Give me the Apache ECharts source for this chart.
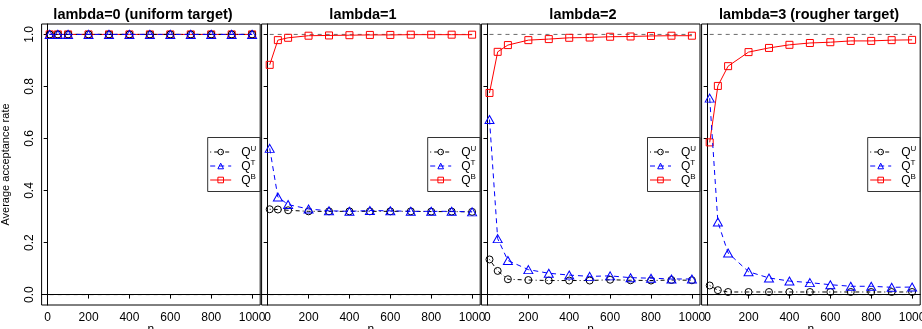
<!DOCTYPE html>
<html><head><meta charset="utf-8">
<script src="https://cdn.jsdelivr.net/npm/echarts@6/dist/echarts.min.js"></script>
<style>html,body{margin:0;padding:0;background:#fff}#c{width:922px;height:329px}</style>
</head><body><div id="c"></div>
<script>
// ---- data ----
const nValues = [10, 50, 100, 200, 300, 400, 500, 600, 700, 800, 900, 1000];
const xTicks = [0, 200, 400, 600, 800, 1000];
const yTicks = [0, 0.2, 0.4, 0.6, 0.8, 1.0];
const panelTitles = ['lambda=0 (uniform target)', 'lambda=1', 'lambda=2', 'lambda=3 (rougher target)'];
const legendNames = ['QU', 'QT', 'QB'];

const refUpper = [1, 1, 1, 1, 1, 1, 1, 1, 1, 1, 1, 1];
const refLower = [0, 0, 0, 0, 0, 0, 0, 0, 0, 0, 0, 0];

const uLambda0 = [1, 1, 1, 1, 1, 1, 1, 1, 1, 1, 1, 1];
const tLambda0 = [1, 1, 1, 1, 1, 1, 1, 1, 1, 1, 1, 1];
const bLambda0 = [1, 1, 1, 1, 1, 1, 1, 1, 1, 1, 1, 1];

const uLambda1 = [0.328, 0.327, 0.324, 0.320, 0.320, 0.320, 0.320, 0.320, 0.320, 0.319, 0.319, 0.318];
const tLambda1 = [0.562, 0.375, 0.346, 0.329, 0.322, 0.320, 0.323, 0.322, 0.320, 0.320, 0.320, 0.318];
const bLambda1 = [0.883, 0.978, 0.987, 0.995, 0.996, 0.997, 0.998, 0.998, 0.999, 0.999, 0.999, 0.999];

const uLambda2 = [0.135, 0.091, 0.059, 0.056, 0.054, 0.054, 0.054, 0.057, 0.055, 0.054, 0.056, 0.055];
const tLambda2 = [0.673, 0.215, 0.131, 0.096, 0.082, 0.075, 0.070, 0.072, 0.065, 0.063, 0.060, 0.060];
const bLambda2 = [0.775, 0.933, 0.959, 0.978, 0.982, 0.987, 0.988, 0.991, 0.992, 0.994, 0.995, 0.995];

const uLambda3 = [0.035, 0.017, 0.010, 0.010, 0.010, 0.010, 0.010, 0.010, 0.010, 0.010, 0.010, 0.010];
const tLambda3 = [0.755, 0.279, 0.160, 0.088, 0.064, 0.052, 0.046, 0.038, 0.032, 0.032, 0.028, 0.029];
const bLambda3 = [0.585, 0.802, 0.878, 0.932, 0.948, 0.960, 0.967, 0.970, 0.975, 0.975, 0.978, 0.979];

const panels = [
  { u: uLambda0, t: tLambda0, b: bLambda0 },
  { u: uLambda1, t: tLambda1, b: bLambda1 },
  { u: uLambda2, t: tLambda2, b: bLambda2 },
  { u: uLambda3, t: tLambda3, b: bLambda3 }
];

// ---- layout / style ----
const FONT = 'Liberation Sans, Arial, sans-serif';
const gridLefts = [41.6, 261.6, 481.4, 701.6];
const gridWidth = 218.6;
const gridTop = 24;
const gridHeight = 281;
const titleCenters = [143, 363, 583, 809];

const pair = (ys) => nValues.map((x, i) => [x, ys[i]]);

const grids = [], xAxes = [], yAxes = [], series = [], legends = [], graphics = [];

panels.forEach((p, i) => {
  grids.push({ left: gridLefts[i], top: gridTop, width: gridWidth, height: gridHeight,
    containLabel: false, outerBoundsMode: 'none',
    show: true, borderColor: '#000', borderWidth: 1, backgroundColor: 'transparent' });
  xAxes.push({
    type: 'value', gridIndex: i, min: -29.6, max: 1039.6,
    name: 'n', nameLocation: 'middle', nameGap: 19, nameMoveOverlap: false,
    nameTextStyle: { fontFamily: FONT, fontSize: 12, color: '#000' },
    axisLine: { show: true, lineStyle: { color: '#000', width: 1 } },
    axisTick: { show: true, customValues: xTicks, length: 4, lineStyle: { color: '#000' } },
    axisLabel: { show: true, customValues: xTicks, margin: 7, formatter: (v) => String(v),
      fontFamily: FONT, fontSize: 12, color: '#000' },
    splitLine: { show: false }
  });
  yAxes.push({
    type: 'value', gridIndex: i, min: -0.04, max: 1.04,
    name: i === 0 ? 'Average acceptance rate' : '',
    nameLocation: 'middle', nameGap: 30, nameRotate: 90, nameMoveOverlap: false,
    nameTextStyle: { fontFamily: FONT, fontSize: 11, color: '#000' },
    axisLine: { show: true, lineStyle: { color: '#000', width: 1 } },
    axisTick: { show: true, customValues: yTicks, length: 4, lineStyle: { color: '#000' } },
    axisLabel: { show: i === 0, customValues: yTicks, rotate: 90, margin: 6,
      formatter: (v) => v.toFixed(1), fontFamily: FONT, fontSize: 12, color: '#000' },
    splitLine: { show: false }
  });
  series.push({
    type: 'line', name: 'refUpper', xAxisIndex: i, yAxisIndex: i, data: pair(refUpper),
    symbol: 'none', silent: true, lineStyle: { color: '#6a6a6a', width: 1, type: [4, 4] }, z: 1
  });
  series.push({
    type: 'line', name: 'refLower', xAxisIndex: i, yAxisIndex: i, data: pair(refLower),
    symbol: 'none', silent: true, lineStyle: { color: '#000', width: 1, type: [4, 4] }, z: 1
  });
  series.push({
    type: 'line', name: 'QB', xAxisIndex: i, yAxisIndex: i, data: pair(p.b),
    symbol: 'rect', symbolSize: 7, showAllSymbol: true,
    itemStyle: { color: 'rgba(255,255,255,0)', borderColor: '#ff0000', borderWidth: 1 },
    lineStyle: { color: '#ff0000', width: 1, type: 'solid' }, z: 2
  });
  series.push({
    type: 'line', name: 'QU', xAxisIndex: i, yAxisIndex: i, data: pair(p.u),
    symbol: 'circle', symbolSize: 7, showAllSymbol: true,
    itemStyle: { color: 'rgba(255,255,255,0)', borderColor: '#000', borderWidth: 1 },
    lineStyle: { color: '#000', width: 1, type: [1, 3, 4, 3] }, z: 3
  });
  series.push({
    type: 'line', name: 'QT', xAxisIndex: i, yAxisIndex: i, data: pair(p.t),
    symbol: 'triangle', symbolSize: [9, 8], showAllSymbol: true,
    itemStyle: { color: 'rgba(255,255,255,0)', borderColor: '#0000ff', borderWidth: 1 },
    lineStyle: { color: '#0000ff', width: 1, type: [5, 4] }, z: 4
  });

  const right = gridLefts[i] + gridWidth;
  legends.push({
    data: legendNames, orient: 'vertical', left: right - 50.5, top: 145,
    itemWidth: 21, itemHeight: 7, itemGap: 0, padding: 0, selectedMode: false,
    itemStyle: { color: 'rgba(255,255,255,0)', borderWidth: 1 },
    lineStyle: { width: 1 },
    formatter: (name) => '{q|Q}{s|' + name.charAt(1) + '}',
    textStyle: {
      padding: [0, 0, 0, 5],
      rich: {
        q: { fontFamily: FONT, fontSize: 12, color: '#000', lineHeight: 14, verticalAlign: 'bottom' },
        s: { fontFamily: FONT, fontSize: 8, color: '#000', verticalAlign: 'top', lineHeight: 14 }
      }
    }
  });
  graphics.push({
    type: 'rect', silent: true, z: 10,
    shape: { x: right - 52.5, y: 137.5, width: 52.5, height: 54 },
    style: { fill: 'none', stroke: '#333', lineWidth: 1 }
  });
  graphics.push({
    type: 'text', silent: true, x: titleCenters[i], y: 15,
    style: { text: panelTitles[i], fontFamily: FONT, fontSize: 14.5, fontWeight: 'bold',
      fill: '#000', textAlign: 'center', textVerticalAlign: 'middle' }
  });
});

const chart = echarts.init(document.getElementById('c'), null, { renderer: 'canvas' });
chart.setOption({
  animation: false,
  backgroundColor: '#fff',
  grid: grids, xAxis: xAxes, yAxis: yAxes, series: series,
  legend: legends, graphic: graphics
});
</script></body></html>
